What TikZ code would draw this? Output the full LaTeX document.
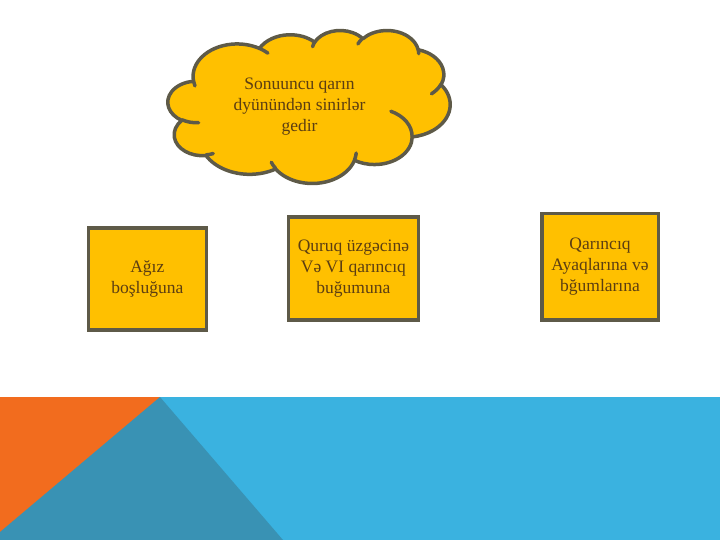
\documentclass[tikz,border=0pt]{standalone}
\usepackage{fontspec}
\setmainfont{Liberation Serif}
\definecolor{gold}{RGB}{255,192,0}
\definecolor{rim}{RGB}{94,90,72}
\definecolor{ink}{RGB}{92,62,18}
\definecolor{orng}{RGB}{242,108,30}
\definecolor{deepteal}{RGB}{57,146,180}
\definecolor{sky}{RGB}{58,178,224}

\begin{document}
\begin{tikzpicture}[x=1pt,y=-1pt,
  txt/.style={text=ink,align=center,font=\fontsize{17.5}{21}\selectfont},
  box/.style={txt,draw=rim,line width=3.5pt,fill=gold,inner sep=0pt},
  puffline/.style={draw=rim,line width=3.5pt,line join=round}]
  \useasboundingbox (0,0) rectangle (720,540);
  % band at the bottom
  \fill[sky] (0,397) rectangle (720,540);
  \fill[orng] (0,397) rectangle (160,540);
  \fill[deepteal] (0,532) -- (160,397) -- (283,540) -- (0,540) -- cycle;
  % cloud, drawn puff by puff
  \begin{scope}[shift={(168,30)},xscale=0.653,yscale=0.354]
    \path[puffline,fill=gold] (39,143.7)
      \foreach \rx/\ry/\st/\sw in {67.53/91.90/-190.4875/123.7805,
          53.33/72.67/-144.1024/89.9452, 43.65/59.45/-145.8079/99.7230,
          48.57/65.95/-130.9861/117.2417, 53.33/72.73/-78.7089/109.0269,
          67.75/92.20/-46.2673/130.2690, 57.85/78.67/0.6250/114.0333,
          67.52/92.15/22.4516/115.1726, 77.20/105.43/66.2426/75.7110,
          43.60/59.18/-274.9421/146.7356, 43.45/59.45/-246.8285/152.5189}{
        arc[x radius=\rx,y radius=\ry,
          start angle={atan2(\rx*sin(\st),\ry*cos(\st))},
          delta angle={atan2(\rx*sin(\st+\sw),\ry*cos(\st+\sw))-atan2(\rx*sin(\st),\ry*cos(\st))
            -360*round((atan2(\rx*sin(\st+\sw),\ry*cos(\st+\sw))-atan2(\rx*sin(\st),\ry*cos(\st))-\sw)/360)}]
      } -- cycle;
    % the short inner strokes
    \foreach \px/\py/\rx/\ry/\st/\sw in {46.93/261.77/43.45/59.45/86.7420/26.4295,
        69.28/348.99/43.60/59.18/73.6105/11.4475, 164.78/390.90/67.52/92.15/137.6242/14.0811,
        288.27/347.51/67.52/92.15/6.4533/15.9984, 341.29/229.54/57.85/78.67/-70.2924/70.9174,
        417.98/153.54/53.33/72.73/30.3180/27.7515, 383.24/54.26/48.57/65.95/-13.7443/14.8589,
        290.78/39.52/48.57/65.95/-149.1815/18.1954, 221.41/47.20/43.65/59.45/-163.4943/17.6864,
        140.00/51.92/67.53/91.90/-66.7070/12.3194, 41.27/157.89/67.53/91.90/157.6544/11.8582}{
      \draw[puffline,line cap=round] (\px,\py)
        arc[x radius=\rx,y radius=\ry,
          start angle={atan2(\rx*sin(\st),\ry*cos(\st))},
          delta angle={atan2(\rx*sin(\st+\sw),\ry*cos(\st+\sw))-atan2(\rx*sin(\st),\ry*cos(\st))
            -360*round((atan2(\rx*sin(\st+\sw),\ry*cos(\st+\sw))-atan2(\rx*sin(\st),\ry*cos(\st))-\sw)/360)}];
    }
  \end{scope}
  \node[txt] (cloudtext) at (299.5,107) {Sonuuncu qarın\\dyünündən sinirlər\\gedir};
  % boxes
  \node[box,minimum width=118pt,minimum height=102pt] (mouth) at (147.3,279)
    {Ağız\\boşluğuna};
  \node[box,minimum width=130pt,minimum height=103pt] (fin) at (353.4,268.3)
    {Quruq üzgəcinə\\Və VI qarıncıq\\buğumuna};
  \node[box,minimum width=116.5pt,minimum height=106.5pt] (legs) at (600,266.7)
    {Qarıncıq\\Ayaqlarına və\\bğumlarına};
\end{tikzpicture}
\end{document}
